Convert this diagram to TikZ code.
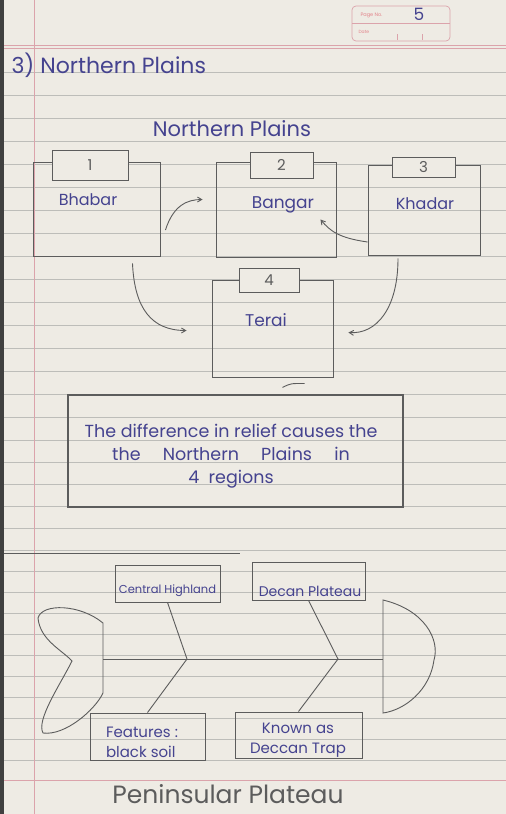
\documentclass[tikz,border=0pt]{standalone}
\usepackage{fontspec}
\setmainfont{Poppins}
\usetikzlibrary{positioning}
\usetikzlibrary{arrows}
\definecolor{paper}{HTML}{EEEBE4}
\definecolor{ink}{HTML}{45438F}
\definecolor{pencil}{HTML}{5C5C5C}
\definecolor{rule}{HTML}{BDBDB9}
\definecolor{margin}{HTML}{DBA3AB}

\begin{document}
\begin{tikzpicture}[x=1pt,y=-1pt,>=angle 60,
	pencil line/.style={draw=pencil,line width=0.9pt},
	region box/.style={rectangle,pencil line,inner sep=0pt},
	tab box/.style={rectangle,pencil line,fill=paper,inner sep=0pt},
	ink text/.style={text=ink,inner sep=0pt,font=\fontsize{16}{18}\selectfont},
	small ink/.style={text=ink,inner sep=0pt,font=\fontsize{11.5}{14}\selectfont},
	num text/.style={text=pencil,inner sep=0pt,font=\fontsize{15}{16}\selectfont}]

	% the notebook page
	\useasboundingbox (0,0) rectangle (506,814);
	\fill[paper] (0,0) rectangle (506,814);
	\fill[black!75] (0,0) rectangle (4,814);
	\foreach \y in {72,95,118,141,164,187,210,233,256,279,302,325,348,371,394,417,440,462,484,506,528,550,571,592,613,634,655,676,697,718,739,760}
		\draw[rule,line width=0.7pt] (4,\y) -- (506,\y);
	\draw[margin,line width=0.8pt] (4,45) -- (506,45) (4,48.5) -- (506,48.5);
	\draw[margin,line width=0.8pt] (4,780) -- (506,780);
	\draw[margin,line width=0.6pt] (34,0) -- (34,814);

	% page number box
	\draw[margin,line width=0.7pt,rounded corners=4pt] (352,6) rectangle (450,41);
	\draw[margin,line width=0.7pt] (352,23.5) -- (450,23.5);
	\node[text=margin!80!red,font=\fontsize{5}{6}\selectfont,anchor=west] (pageno) at (357,15) {Page No.};
	\node[text=ink,font=\fontsize{17}{18}\selectfont] (pagenum) at (419,14) {5};
	\node[text=margin!80!red,font=\fontsize{4.5}{5}\selectfont,anchor=west] (date) at (355,32) {Date};
	\draw[margin,line width=0.6pt] (397,34) -- (397,40) (422,34) -- (422,40);

	% headings
	\node[text=ink,font=\fontsize{22}{24}\selectfont,anchor=west] (title) at (8,65) {3) Northern Plains};
	\node[text=ink,font=\fontsize{21}{24}\selectfont] (heading) at (232,129) {Northern Plains};

	% the four regions
	\node[region box,minimum width=127pt,minimum height=94pt] (bhabar) at (96.5,209) {};
	\node[region box,minimum width=120pt,minimum height=95pt] (bangar) at (276,209.5) {};
	\node[region box,minimum width=112pt,minimum height=90pt] (khadar) at (424,210) {};
	\node[region box,minimum width=121pt,minimum height=97pt] (terai) at (272.5,328.5) {};

	\node[tab box,minimum width=76pt,minimum height=30pt] (tab1) at (90,165) {};
	\node[tab box,minimum width=63pt,minimum height=26pt] (tab2) at (281.5,165) {};
	\node[tab box,minimum width=63pt,minimum height=20pt] (tab3) at (423.5,167) {};
	\node[tab box,minimum width=60pt,minimum height=24pt] (tab4) at (269,280) {};

	\node[num text] at (tab1) {1};
	\node[num text] at (tab2) {2};
	\node[num text] at (tab3) {3};
	\node[num text] at (tab4) {4};

	\node[ink text] (bhabarlbl) at (88,200) {Bhabar};
	\node[ink text,font=\fontsize{17}{18}\selectfont] (bangarlbl) at (283,205) {Bangar};
	\node[ink text] (khadarlbl) at (425,204) {Khadar};
	\node[ink text,font=\fontsize{17}{18}\selectfont] (terailbl) at (266,320) {Terai};

	\draw[pencil line,->] ([xshift=5pt,yshift=-21pt]bhabar.east) .. controls +(8,-25) and +(-15,0) .. ([xshift=-13pt,yshift=10pt]bangar.west);
	\draw[pencil line,->] ([yshift=-32pt]khadar.west) .. controls +(-28,-4) and +(10,12) .. ([xshift=-16pt,yshift=-10pt]bangar.east);
	\draw[pencil line,->] ([xshift=36pt,yshift=-7pt]bhabar.south) .. controls +(2,45) and +(-35,0) .. ([xshift=-25pt,yshift=-2pt]terai.west);
	\draw[pencil line,->] ([xshift=-26pt,yshift=-3pt]khadar.south) .. controls +(0,50) and +(28,2) .. ([xshift=15pt,yshift=-4pt]terai.east);
	\draw[pencil line] ([xshift=10pt,yshift=-10pt]terai.south) .. controls +(8,-4) .. ([xshift=32pt,yshift=-6pt]terai.south);

	% the note
	\node[region box,line width=1.1pt,minimum width=335pt,minimum height=112pt] (note) at (235.5,451) {};
	\node[text=ink,align=center,inner sep=0pt,font=\fontsize{17.5}{23}\selectfont] (notetext) at (231,456)
		{The difference in relief causes the\\ the \quad Northern \quad Plains \quad in\\ 4 \ regions};

	\draw[pencil,line width=1pt] (4,553) -- (240,553);

	% fishbone of the plateau
	\coordinate (tailend) at (103,659);
	\coordinate (headend) at (383,659);
	\coordinate (joint1) at (187,659);
	\coordinate (joint2) at (338,659);
	\draw[pencil line] (103,623) .. controls (80,604) and (42,603) .. (38,618)
		.. controls (40,640) and (62,650) .. (72,661)
		.. controls (60,685) and (36,720) .. (43,733)
		.. controls (65,736) and (95,710) .. (103,693) -- cycle;
	\draw[pencil line] (383,600) .. controls (425,610) and (440,640) .. (434,660)
		.. controls (430,690) and (405,710) .. (383,713) -- cycle;
	\draw[pencil line] (tailend) -- (headend);

	\node[region box,minimum width=105pt,minimum height=37pt] (central) at (167.5,583.5) {};
	\node[region box,minimum width=113pt,minimum height=38pt] (deccan) at (308.5,581) {};
	\node[region box,minimum width=115pt,minimum height=47pt] (features) at (147.5,736.5) {};
	\node[region box,minimum width=127pt,minimum height=46pt] (known) at (298.5,735) {};

	\node[small ink] (centrallbl) at (167.5,591) {Central Highland};
	\node[small ink,font=\fontsize{14}{16}\selectfont] (deccanlbl) at (310,591) {Decan Plateau};
	\node[small ink,align=left,font=\fontsize{15}{20}\selectfont] (featureslbl) at (142,742) {Features :\\ black soil};
	\node[small ink,align=center,font=\fontsize{15}{20}\selectfont] (knownlbl) at (298,740) {Known as\\ Deccan Trap};

	\draw[pencil line] (central.south) -- (joint1) -- (features.north);
	\draw[pencil line] (deccan.south) -- (joint2) -- (known.north);

	\node[text=pencil,font=\fontsize{25}{28}\selectfont] (plateau) at (228,794) {Peninsular Plateau};
\end{tikzpicture}
\end{document}
